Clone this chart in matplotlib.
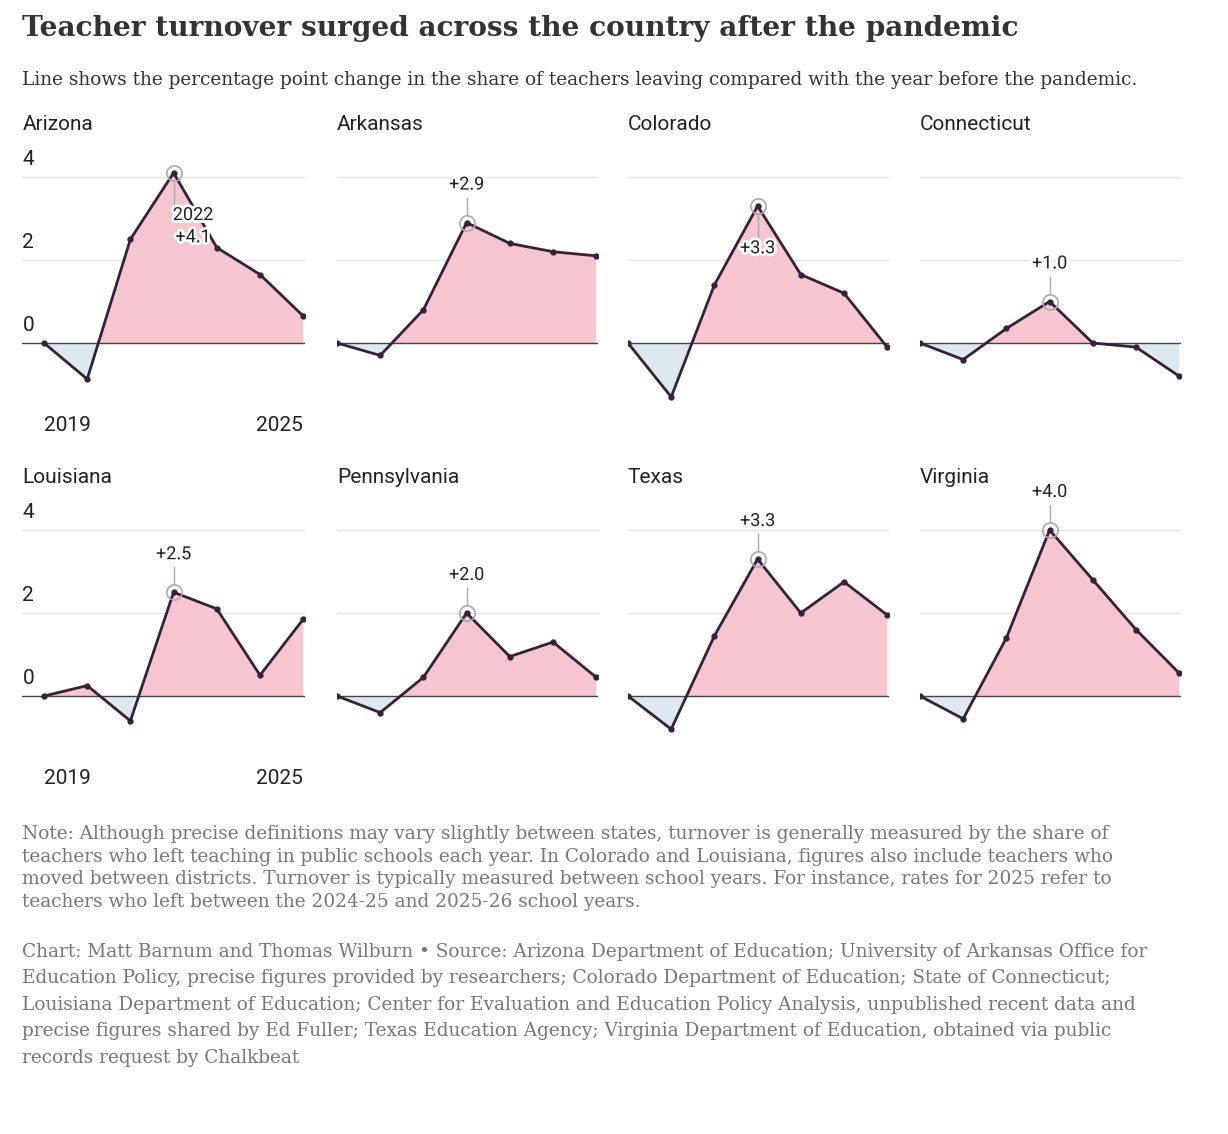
import numpy as np
import matplotlib.pyplot as plt
import matplotlib.patheffects as pe

years = [2019, 2020, 2021, 2022, 2023, 2024, 2025]
states = ["Arizona", "Arkansas", "Colorado", "Connecticut",
          "Louisiana", "Pennsylvania", "Texas", "Virginia"]
arizona = [0, -0.87, 2.5, 4.1, 2.3, 1.65, 0.65]
arkansas = [0, -0.3, 0.8, 2.9, 2.4, 2.2, 2.1]
colorado = [0, -1.3, 1.4, 3.3, 1.65, 1.2, -0.1]
connecticut = [0, -0.4, 0.35, 1.0, 0.0, -0.1, -0.8]
louisiana = [0, 0.25, -0.6, 2.5, 2.1, 0.5, 1.85]
pennsylvania = [0, -0.4, 0.45, 2.0, 0.95, 1.3, 0.45]
texas = [0, -0.8, 1.45, 3.3, 2.0, 2.75, 1.95]
virginia = [0, -0.55, 1.4, 4.0, 2.8, 1.6, 0.55]
series = [arizona, arkansas, colorado, connecticut,
          louisiana, pennsylvania, texas, virginia]

W, H = 1228, 1134
fig = plt.figure(figsize=(W / 100, H / 100), dpi=100)

SANS = "Roboto"
SERIF = "DejaVu Serif"
LINE = "#3a1f3d"
PINK = "#f5c6cf"
BLUE = "#dceaf0"

col_first = [44, 337, 628, 920]
year_px = 43.2
zero_px = [343, 696]
unit = 41.5
ylo, yhi = -1.4, 4.65

for i, (name, vals) in enumerate(zip(states, series)):
    r, c = divmod(i, 4)
    top = zero_px[r] - yhi * unit
    height = (yhi - ylo) * unit
    x0 = 2018.5 if c == 0 else 2019.0
    x1 = 2025.05
    left = col_first[c] - (2019 - x0) * year_px
    width = (x1 - x0) * year_px
    ax = fig.add_axes([left / W, 1 - (top + height) / H, width / W, height / H])
    ax.set_xlim(x0, x1)
    ax.set_ylim(ylo, yhi)
    ax.axis("off")
    for g in [2, 4]:
        ax.axhline(g, color="#e4e4e4", lw=1, zorder=0)
    ax.axhline(0, color="#444444", lw=1, zorder=2)
    x = np.array(years, float)
    y = np.array(vals)
    ax.fill_between(x, y, 0, where=y >= 0, interpolate=True, color=PINK, lw=0, zorder=1)
    ax.fill_between(x, y, 0, where=y <= 0, interpolate=True, color=BLUE, lw=0, zorder=1)
    ax.plot(x, y, color=LINE, lw=2, marker="o", ms=3.5, zorder=3)
    ax.text(0, 1.065, name, transform=ax.transAxes, fontsize=15, family=SANS,
            color="#222222", ha="left", va="bottom")
    if c == 0:
        for g in [0, 2, 4]:
            ax.text(2018.5, g + 0.2, str(g), fontsize=15, family=SANS,
                    color="#222222", ha="left", va="bottom")
        ax.text(2019, -1.75, "2019", fontsize=15, family=SANS, color="#222222",
                ha="left", va="top", clip_on=False)
        ax.text(2025, -1.75, "2025", fontsize=15, family=SANS, color="#222222",
                ha="right", va="top", clip_on=False)
    # peak annotation
    k = int(np.argmax(y))
    ax.plot(x[k], y[k], "o", ms=11, mfc="none", mec="#aaaaaa", mew=1.2, zorder=4)
    lab = f"+{y[k]:.1f}"
    below = name in ("Arizona", "Colorado")
    if name == "Arizona":
        lab = "2022\n" + lab
    stroke = [pe.withStroke(linewidth=4, foreground="white")]
    if below:
        ax.plot([x[k], x[k]], [y[k] - 0.2, y[k] - 0.75], color="#aaaaaa", lw=1, zorder=4)
        ax.text(x[k] + (0.45 if name == "Arizona" else 0), y[k] - 0.8, lab, fontsize=13,
                family=SANS, ha="center", va="top", color="#222222",
                path_effects=stroke, zorder=5, linespacing=1.3)
    else:
        ax.plot([x[k], x[k]], [y[k] + 0.2, y[k] + 0.6], color="#aaaaaa", lw=1, zorder=4)
        ax.text(x[k], y[k] + 0.7, lab, fontsize=13, family=SANS, ha="center",
                va="bottom", color="#222222", path_effects=stroke, zorder=5)

fig.text(22 / W, 1 - 28 / H, "Teacher turnover surged across the country after the pandemic",
         fontsize=20.2, family=SERIF, weight="bold", color="#333333", va="center")
fig.text(22 / W, 1 - 80 / H,
         "Line shows the percentage point change in the share of teachers leaving compared with the year before the pandemic.",
         fontsize=13.3, family=SERIF, color="#333333", va="center")

note = ("Note: Although precise definitions may vary slightly between states, turnover is generally measured by the share of\n"
        "teachers who left teaching in public schools each year. In Colorado and Louisiana, figures also include teachers who\n"
        "moved between districts. Turnover is typically measured between school years. For instance, rates for 2025 refer to\n"
        "teachers who left between the 2024-25 and 2025-26 school years.")
fig.text(22 / W, 1 - 825 / H, note, fontsize=13.3, family=SERIF, color="#777777",
         va="top", linespacing=1.33)
source = ("Chart: Matt Barnum and Thomas Wilburn \u2022 Source: Arizona Department of Education; University of Arkansas Office for\n"
          "Education Policy, precise figures provided by researchers; Colorado Department of Education; State of Connecticut;\n"
          "Louisiana Department of Education; Center for Evaluation and Education Policy Analysis, unpublished recent data and\n"
          "precise figures shared by Ed Fuller; Texas Education Agency; Virginia Department of Education, obtained via public\n"
          "records request by Chalkbeat")
fig.text(22 / W, 1 - 943 / H, source, fontsize=13.3, family=SERIF, color="#777777",
         va="top", linespacing=1.6)

fig.savefig("out.png", dpi=100)
